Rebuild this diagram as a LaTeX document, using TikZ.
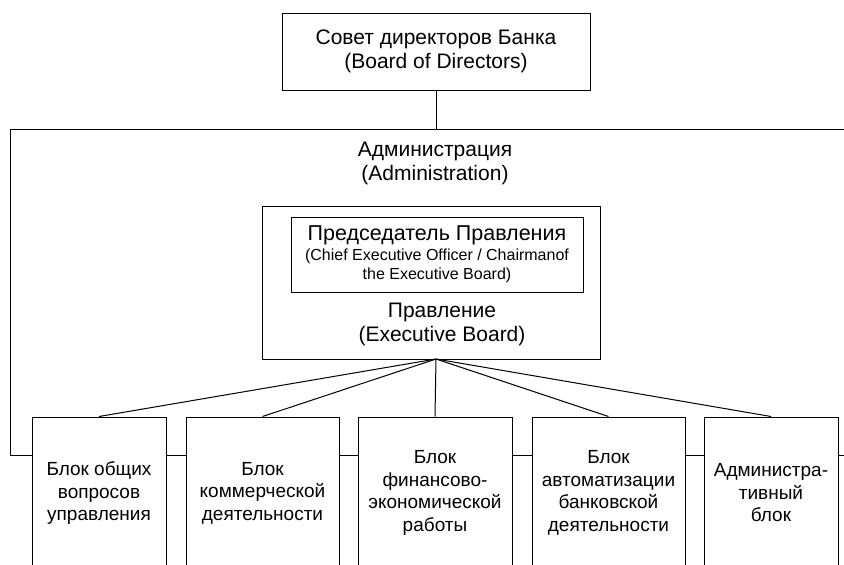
\documentclass[tikz,border=0pt]{standalone}
\usepackage{fontspec}
\setmainfont{Liberation Sans}
\usetikzlibrary{positioning}

\begin{document}
\begin{tikzpicture}[x=1pt, y=1pt, line width=1pt,
    box/.style={draw, align=center, inner sep=0pt},
    big/.style={font=\fontsize{21}{24}\selectfont},
    unit/.style={box, font=\fontsize{19}{22.5}\selectfont, minimum height=152}]
    \useasboundingbox (0,0) rectangle (844,-565);
    \clip (0,0) rectangle (844,-565);
    % board of directors
    \node[box, big, minimum width=308, minimum height=77] (board) at (436,-51.5)
        {Совет директоров Банка\\(Board of Directors)};
    % administration frame
    \coordinate (frtop) at (436,-129.5);
    \coordinate (frnw) at (10,-129.5);
    \coordinate (frne) at (850,-129.5);
    \coordinate (frsw) at (10,-455);
    \coordinate (frse) at (850,-455);
    \draw (frne) -- (frnw) -- (frsw);
    \draw (board.south) -- (frtop);
    \node[big, align=center] (admin) at (435,-163) {Администрация\\(Administration)};
    % executive board
    \node[box, minimum width=338, minimum height=153] (exec) at (431,-282.5) {};
    \node[box, minimum width=292, minimum height=75, font=\fontsize{16}{19}\selectfont] (chair) at (437,-254.5)
        {{\fontsize{21.5}{21}\selectfont Председатель Правления}\\[1pt]
         (Chief Executive Officer / Chairmanof\\the Executive Board)};
    \node[big, align=center] (eboard) at (442,-324) {Правление\\(Executive Board)};
    \coordinate (hub) at (436,-359);
    % blocks
    \foreach \n/\x/\w/\t in {1/99/134/{Блок общих\\вопросов\\управления},
        2/262.5/153/{Блок\\коммерческой\\деятельности},
        3/435/154/{Блок\\финансово-\\экономической\\работы},
        4/608.5/153/{Блок\\автоматизации\\банковской\\деятельности},
        5/771/134/{Администра-\\тивный\\блок}} {
        \node[unit, minimum width=\w] (b\n) at (\x,-493) {\t};
        \draw (hub) -- (b\n.north);
    }
    \draw (frsw) -- (b1.west |- frsw);
    \foreach \a/\b in {1/2, 2/3, 3/4, 4/5}
        \draw (b\a.east |- frsw) -- (b\b.west |- frsw);
    \draw (b5.east |- frsw) -- (frse);
\end{tikzpicture}
\end{document}
